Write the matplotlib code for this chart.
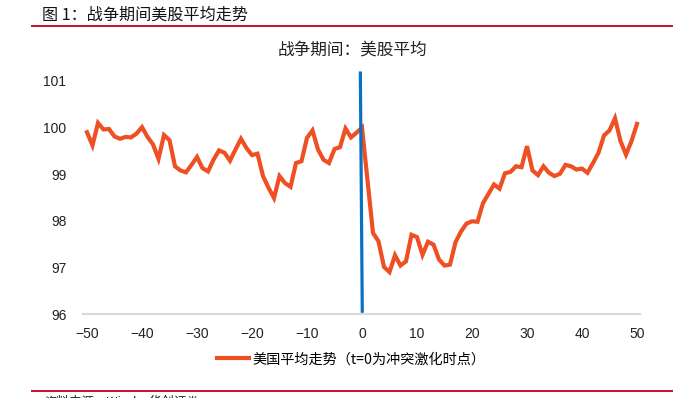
import matplotlib
matplotlib.use("Agg")
import matplotlib.pyplot as plt
from matplotlib.lines import Line2D

plt.rcParams['font.family'] = ['Noto Sans CJK SC', 'DejaVu Sans']
plt.rcParams['axes.unicode_minus'] = True

# t = -50 .. 50
t = list(range(-50, 51))
us_avg = [
    99.90, 99.62, 100.10, 99.96, 99.97, 99.81, 99.76, 99.80, 99.79, 99.87,
    100.01, 99.80, 99.64, 99.33, 99.84, 99.73, 99.17, 99.08, 99.04, 99.20,
    99.37, 99.13, 99.06, 99.31, 99.51, 99.46, 99.29, 99.53, 99.76, 99.56,
    99.41, 99.44, 98.96, 98.71, 98.49, 98.96, 98.81, 98.73, 99.24, 99.28,
    99.78, 99.94, 99.53, 99.31, 99.24, 99.54, 99.58, 99.98, 99.79, 99.89,
    100.00,
    98.87, 97.74, 97.56, 97.01, 96.90, 97.26, 97.04, 97.13, 97.70, 97.65,
    97.27, 97.55, 97.49, 97.17, 97.04, 97.06, 97.54, 97.77, 97.94, 97.99,
    97.98, 98.38, 98.58, 98.78, 98.69, 99.02, 99.05, 99.17, 99.15, 99.60,
    99.08, 98.98, 99.17, 99.03, 98.96, 99.01, 99.20, 99.17, 99.10, 99.12,
    99.03, 99.24, 99.46, 99.83, 99.94, 100.20, 99.71, 99.42, 99.71, 100.08,
]
# conflict marker line
event_x = [-0.3, 0.05]
event_y = [101.17, 96.06]

xticks = list(range(-50, 51, 10))
yticks = [96, 97, 98, 99, 100, 101]

header = "图 1：战争期间美股平均走势"
title = "战争期间：美股平均"
legend_label = "美国平均走势（t=0为冲突激化时点）"
source = "资料来源：Wind，华创证券"

orange = "#EE4F23"
blue = "#0A70C2"
red = "#C8102E"

fig = plt.figure(figsize=(6.73, 3.98), dpi=100)
ax = fig.add_axes([0.1233, 0.211, 0.951 - 0.1233, 0.7965 - 0.211])

ax.plot(t, us_avg, color=orange, lw=3.0, solid_joinstyle='miter', zorder=3)
ax.plot(event_x, event_y, color=blue, lw=2.3, clip_on=False, zorder=4)

ax.set_xlim(-50.73, 50.55)
ax.set_ylim(96, 101)
ax.set_xticks(xticks)
ax.set_yticks(yticks)
ax.set_xticklabels([str(v).replace('-', '\u2212') for v in xticks],
                   family='Liberation Sans', fontsize=10)
ax.set_yticklabels([str(v) for v in yticks], family='Liberation Sans', fontsize=10)
ax.tick_params(length=0, colors='#222222')
ax.tick_params(axis='x', pad=9)
ax.tick_params(axis='y', pad=12)
for s in ['top', 'right', 'left']:
    ax.spines[s].set_visible(False)
ax.spines['bottom'].set_color('#D9D9D9')
ax.spines['bottom'].set_linewidth(1.5)

fig.text(0.524, 0.874, title, ha='center', va='center', fontsize=12,
         color='#222222', fontweight='light')

handle = Line2D([0], [0], color=orange, lw=3.0)
fig.legend([handle], [legend_label], loc='center', bbox_to_anchor=(0.522, 0.097),
           frameon=False, fontsize=10.2, handlelength=2.3, handletextpad=0.25)

fig.text(0.062, 0.962, header, ha='left', va='center', fontsize=11.6,
         color='#111111', fontweight='medium')
fig.add_artist(Line2D([0.048, 1.0], [0.935, 0.935], color=red, lw=1.4,
                      transform=fig.transFigure))
fig.add_artist(Line2D([0.048, 1.0], [0.018, 0.018], color=red, lw=1.4,
                      transform=fig.transFigure))
fig.text(0.066, 0.006, source, ha='left', va='top', fontsize=9,
         color='#222222')

fig.savefig("out.png", dpi=100)
